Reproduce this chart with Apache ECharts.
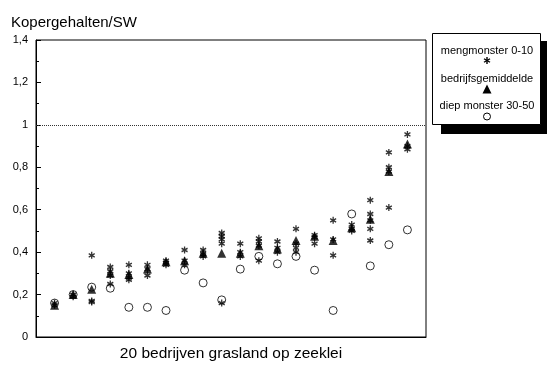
<!DOCTYPE html>
<html>
<head>
<meta charset="utf-8">
<script src="https://cdn.jsdelivr.net/npm/echarts@6/dist/echarts.min.js"></script>
<style>
html,body{margin:0;padding:0;background:#fff;}
#chart{width:547px;height:367px;}
</style>
</head>
<body>
<div id="chart"></div>
<script>
// companies (x positions 1..20)
const companies = [1,2,3,4,5,6,7,8,9,10,11,12,13,14,15,16,17,18,19,20];
// bedrijfsgemiddelde (triangles)
const average = [0.15,0.20,0.225,0.30,0.295,0.32,0.355,0.36,0.395,0.395,0.395,0.43,0.415,0.455,0.475,0.455,0.515,0.555,0.78,0.91];
// diep monster 30-50 (circles)
const deep = [0.16,0.20,0.235,0.23,0.14,0.14,0.125,0.315,0.255,0.175,0.32,0.38,0.345,0.38,0.315,0.125,0.58,0.335,0.435,0.505];
// mengmonster 0-10 (asterisks), several per company
const mixed = [
  [0.15,0.16],
  [0.20,0.19],
  [0.385,0.165,0.17],
  [0.33,0.31,0.29,0.25],
  [0.34,0.30,0.28,0.27],
  [0.34,0.32,0.29],
  [0.36,0.35,0.34],
  [0.41,0.36,0.34],
  [0.41,0.39,0.38],
  [0.49,0.475,0.46,0.44,0.16],
  [0.44,0.40,0.38],
  [0.465,0.45,0.43,0.36],
  [0.45,0.42,0.40],
  [0.51,0.44,0.42,0.40],
  [0.48,0.47,0.44],
  [0.55,0.46,0.385],
  [0.53,0.51,0.50],
  [0.645,0.58,0.55,0.51,0.455],
  [0.87,0.80,0.78,0.61],
  [0.955,0.90,0.885]
];
const yTicks = [0,0.2,0.4,0.6,0.8,1,1.2,1.4];
const seriesNames = ['mengmonster 0-10','bedrijfsgemiddelde','diep monster 30-50'];
const titleText = 'Kopergehalten/SW';
const xName = '20 bedrijven grasland op zeeklei';

const asteriskPath = 'path://M0,0L0,10M-4.33,2.5L4.33,7.5M-4.33,7.5L4.33,2.5';

const mixedData = [];
mixed.forEach((arr, i) => arr.forEach(v => mixedData.push([companies[i], v])));
const avgData = average.map((v, i) => [companies[i], v]);
const deepData = deep.map((v, i) => [companies[i], v]);

const chart = echarts.init(document.getElementById('chart'));
const font = 'Liberation Sans, Arial, sans-serif';
const LX = 487;
chart.setOption({
  animation: false,
  backgroundColor: '#fff',
  textStyle: {fontFamily: font},
  title: {
    text: titleText, left: 11, top: 15, padding: 0,
    textStyle: {fontSize: 15, fontWeight: 'normal', color: '#000', fontFamily: font}
  },
  grid: {left: 36, right: 121, top: 40, bottom: 29, show: true, borderColor: '#000', borderWidth: 1},
  xAxis: {
    type: 'value', min: 0, max: 21,
    name: xName, nameLocation: 'middle', nameGap: 9,
    nameTextStyle: {fontSize: 15.5, color: '#000', fontFamily: font, verticalAlign: 'top'},
    axisLine: {show: true, lineStyle: {color: '#000', width: 1}},
    axisTick: {show: false}, axisLabel: {show: false}, splitLine: {show: false}
  },
  yAxis: {
    type: 'value', min: 0, max: 1.4, interval: 0.2,
    axisLine: {show: true, lineStyle: {color: '#000', width: 1}},
    axisTick: {show: true, inside: true, length: 5, lineStyle: {color: '#000'}},
    minorTick: {show: true, splitNumber: 2, length: 3, lineStyle: {color: '#000'}},
    axisLabel: {
      fontSize: 11, color: '#000', margin: 8, fontFamily: font,
      formatter: v => String(Math.round(v * 10) / 10).replace('.', ',')
    },
    splitLine: {show: false}
  },
  series: [
    {
      name: seriesNames[2], type: 'scatter', data: deepData,
      symbol: 'circle', symbolSize: 8,
      itemStyle: {color: 'rgba(0,0,0,0)', borderColor: '#000', borderWidth: 1},
      markLine: {
        silent: true, symbol: 'none', label: {show: false},
        lineStyle: {type: 'dotted', color: '#333', width: 1},
        data: [{yAxis: 1}]
      }
    },
    {
      name: seriesNames[1], type: 'scatter', data: avgData,
      symbol: 'triangle', symbolSize: [9, 9],
      itemStyle: {color: '#000'}
    },
    {
      name: seriesNames[0], type: 'scatter', data: mixedData,
      symbol: asteriskPath, symbolSize: [6, 7],
      itemStyle: {color: '#000', borderColor: '#000', borderWidth: 1.4}
    }
  ],
  graphic: [
    {type: 'rect', shape: {x: 441, y: 41, width: 110, height: 93}, style: {fill: '#000'}},
    {type: 'rect', shape: {x: 432.5, y: 33.5, width: 108, height: 91}, style: {fill: '#fff', stroke: '#000', lineWidth: 1}},
    {type: 'text', x: LX, y: 51, style: {text: seriesNames[0], font: '11px ' + font, fill: '#000', textAlign: 'center', textVerticalAlign: 'middle'}},
    {type: 'line', shape: {x1: LX, y1: 57, x2: LX, y2: 64}, style: {stroke: '#000', lineWidth: 1.4}},
    {type: 'line', shape: {x1: LX - 3, y1: 58.75, x2: LX + 3, y2: 62.25}, style: {stroke: '#000', lineWidth: 1.4}},
    {type: 'line', shape: {x1: LX - 3, y1: 62.25, x2: LX + 3, y2: 58.75}, style: {stroke: '#000', lineWidth: 1.4}},
    {type: 'text', x: LX, y: 79, style: {text: seriesNames[1], font: '11px ' + font, fill: '#000', textAlign: 'center', textVerticalAlign: 'middle'}},
    {type: 'polygon', shape: {points: [[LX, 84.5], [LX + 4.5, 93.5], [LX - 4.5, 93.5]]}, style: {fill: '#000'}},
    {type: 'text', x: LX, y: 106, style: {text: seriesNames[2], font: '11px ' + font, fill: '#000', textAlign: 'center', textVerticalAlign: 'middle'}},
    {type: 'circle', shape: {cx: LX, cy: 116.5, r: 3.5}, style: {fill: 'none', stroke: '#000', lineWidth: 1}}
  ]
});
</script>
</body>
</html>
